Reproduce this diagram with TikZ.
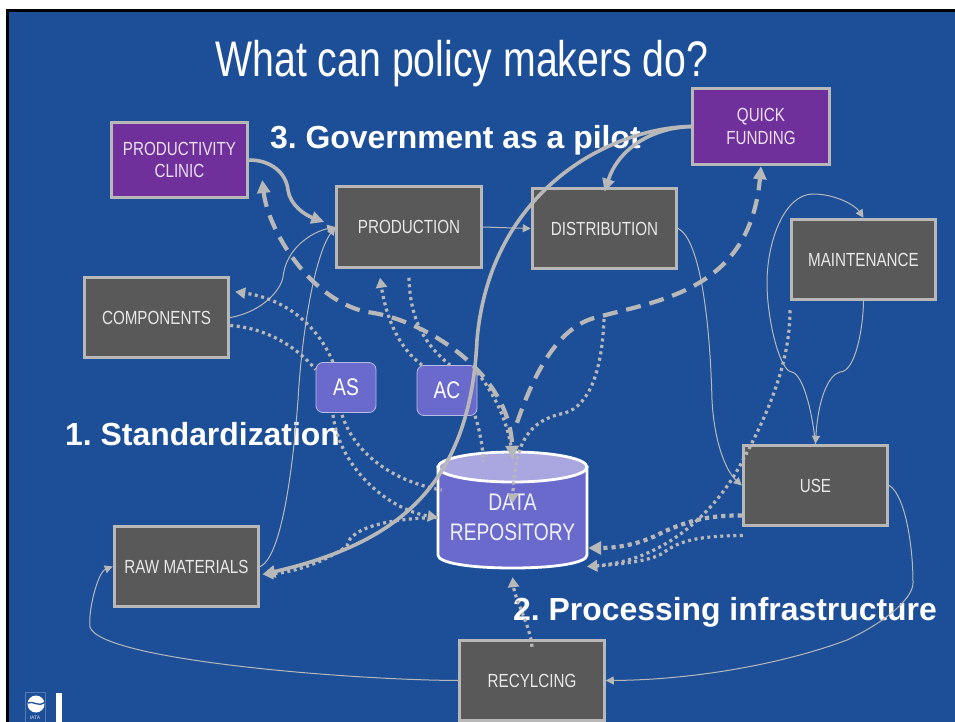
\documentclass[tikz,border=0pt]{standalone}
\usepackage{fontspec}
\setmainfont{Liberation Sans}
\newfontfamily\narrowfont[FakeStretch=0.8]{Liberation Sans}
\newfontfamily\titlefont[FakeStretch=0.785]{Liberation Sans}
\usetikzlibrary{arrows.meta}
\definecolor{slide}{HTML}{1D4F99}
\definecolor{boxgray}{HTML}{595959}
\definecolor{edge}{HTML}{B8B8B8}
\definecolor{purplebox}{HTML}{70309C}
\definecolor{violetbox}{HTML}{6A6ACC}
\definecolor{cyltop}{HTML}{A9A6E0}
\definecolor{labeltext}{HTML}{E8E8E8}
\tikzset{
  boxbase/.style={draw=edge,line width=3pt,inner sep=0pt,align=center,text=labeltext,
    font=\narrowfont\fontsize{19}{22.5}\selectfont},
  graybox/.style={boxbase,fill=boxgray,minimum width=144.5pt,minimum height=80.5pt},
  purple box/.style={boxbase,fill=purplebox,text=white!85!purplebox},
  softbox/.style={draw=white!55!violetbox,line width=0.8pt,fill=violetbox,rounded corners=7pt,
    minimum width=60pt,minimum height=50pt,inner sep=0pt,text=white,
    font=\narrowfont\fontsize{24}{28}\selectfont},
  headline/.style={anchor=base west,inner sep=0pt,text=white,font=\frenchspacing\bfseries\fontsize{31.9}{36}\selectfont},
  thinlink/.style={draw=edge,line width=1pt,line cap=round},
  thinarrow/.style={thinlink,-{Triangle[length=8pt,width=8pt]}},
  heavylink/.style={draw=edge,line width=3.6pt,-{Triangle[length=13pt,width=12pt]}},
  dashlink/.style={draw=edge,line width=4.2pt,dash pattern=on 15pt off 9pt},
  dashtip/.style={dashlink,-{Triangle[length=13pt,width=13pt]}},
  dotlink/.style={draw=edge,line width=3.2pt,dash pattern=on 3pt off 3.5pt},
  dotarrow/.style={dotlink,-{Triangle[length=10pt,width=11pt]}},
  bigdot/.style={draw=edge,line width=4.2pt,dash pattern=on 4.2pt off 4pt,-{Triangle[length=13pt,width=13pt]}},
}
\begin{document}
\begin{tikzpicture}[x=1pt,y=-1pt]
\useasboundingbox (0,0) rectangle (955,722);
\fill[white] (0,0) rectangle (955,722);
\fill[black] (6,9) rectangle (955,722);
\fill[slide] (9,12) rectangle (955,722);

% title and headings
\node[anchor=base,inner sep=0pt,text=white,font=\titlefont\fontsize{50}{56}\selectfont] (title) at (462,77) {What can policy makers do?};
\node[headline] (h3) at (270,149) {3. Government as a pilot};
\node[headline] (h1) at (65,445) {1. Standardization};
\node[headline] (h2) at (513,620) {2. Processing infrastructure};

% logo
\draw[white!25!slide,line width=0.6pt] (25,692) rectangle (45,722);
\fill[white] (36,704) circle (8.5pt);
\draw[slide,line width=1.3pt] (28,703) .. controls (33,700) and (38,708) .. (45,702);
\node[inner sep=0pt,text=white!80!slide,font=\fontsize{5}{6}\selectfont] (iata) at (35,718) {IATA};
\fill[white] (56,693) rectangle (62,722);

% boxes
\node[purple box,minimum width=136.5pt,minimum height=75.5pt] (clinic) at (179.5,160) {PRODUCTIVITY\\CLINIC};
\node[purple box,minimum width=137.5pt,minimum height=76.5pt] (quick) at (761,126.5) {QUICK\\FUNDING};
\node[graybox] (prod) at (409,227) {PRODUCTION};
\node[graybox] (dist) at (604.5,228.5) {DISTRIBUTION};
\node[graybox] (maint) at (863.5,259.5) {MAINTENANCE};
\node[graybox] (comp) at (156.5,317.5) {COMPONENTS};
\node[graybox] (raw) at (186.5,566.5) {RAW MATERIALS};
\node[graybox] (use) at (815.5,485.5) {USE};
\node[graybox] (recyc) at (532,680.5) {RECYLCING};
\node[softbox] (as) at (346,387.5) {AS};
\node[softbox] (ac) at (447,390.5) {AC};

% data repository
\filldraw[fill=violetbox,draw=white,line width=2.8pt] (438,467) -- (438,555)
  .. controls (438,563) and (470,568) .. (512.5,568)
  .. controls (555,568) and (587,563) .. (587,555) -- (587,467) -- cycle;
\filldraw[fill=cyltop,draw=white,line width=2.8pt] (512.5,467) ellipse [x radius=74.5pt,y radius=15pt];
\node[inner sep=0pt,minimum width=149pt,minimum height=101pt,align=center,text=white!90!violetbox,
  font=\narrowfont\fontsize{24}{29.5}\selectfont] (repo) at (512.5,517.5) {DATA\\REPOSITORY};
\coordinate (junction) at (604,319);

% thin links
\draw[thinarrow] (comp.east) .. controls (262,312) and (281,290) .. (283,277) .. controls (286,248) and (312,232) .. (prod.west);
\draw[thinarrow] (raw.east) .. controls (285,555) and (295,440) .. (298,400) .. controls (302,330) and (315,255) .. (prod.west);
\draw[thinarrow] (prod.east) -- (dist.west);
\draw[thinarrow] (dist.east) .. controls (700,240) and (710,320) .. (712,400) .. controls (714,440) and (725,470) .. (use.west);
\draw[thinarrow] (use.east) .. controls (905,495) and (913,545) .. (913,583) .. controls (913,600) and (880,625) .. (847,640) .. controls (780,665) and (690,680) .. (recyc.east);
\draw[thinarrow] (recyc.west) .. controls (350,680) and (100,660) .. (90,627) .. controls (88,610) and (98,572) .. (raw.west);
\draw[thinarrow] (maint.south) .. controls (863,330) and (855,372) .. (840,372) .. controls (828,375) and (818,400) .. (use.north);
\draw[thinarrow] (use.north) .. controls (812,410) and (803,375) .. (792,372) .. controls (780,372) and (767,320) .. (767,283) .. controls (767,240) and (785,194) .. (813,194) .. controls (835,194) and (855,205) .. (maint.north);

% heavy links
\draw[heavylink] (clinic.east) .. controls (270,160) and (286,172) .. (288,190) .. controls (290,205) and (305,215) .. ([xshift=-11pt,yshift=5pt]prod.west);
\draw[heavylink] (quick.west) .. controls (650,128) and (618,150) .. ([yshift=-5pt]dist.north);
\draw[heavylink] (quick.west) .. controls (610,128) and (490,190) .. (477,340) .. controls (470,490) and (393,544) .. ([xshift=2pt,yshift=-8pt]raw.east);

% dashed links
\draw[dashlink,{Triangle[length=13pt,width=13pt]}-{Triangle[length=13pt,width=13pt]}] ([xshift=13pt,yshift=-20pt]clinic.east) .. controls (268,230) and (310,300) .. (367,312) .. controls (420,318) and (510,370) .. ([yshift=8pt]repo.north);
\draw[dashtip] ([xshift=4.5pt,yshift=44pt]repo.north) .. controls (535,370) and (560,325) .. (598,317) .. controls (660,300) and (750,290) .. (quick.south);

% dotted links
\draw[dotarrow] ([xshift=-13pt]as.north) .. controls (315,320) and (280,298) .. ([xshift=5pt,yshift=-16pt]comp.north east);
\draw[dotlink] ([yshift=-8pt]comp.east) .. controls (265,328) and (295,345) .. ([yshift=18pt]as.west);
\draw[dotarrow] ([xshift=-25pt]ac.north) .. controls (395,345) and (385,310) .. ([xshift=-29pt,yshift=-9pt]prod.south);
\draw[dotlink] ([yshift=-9pt]prod.south) .. controls (410,320) and (425,345) .. ([xshift=3pt]ac.north);
\draw[dotlink] ([yshift=18pt]ac.east) .. controls (495,395) and (510,425) .. ([yshift=8pt]repo.north);
\draw[dotlink] ([xshift=28pt]ac.south) .. controls (480,430) and (483,450) .. ([xshift=-29pt,yshift=5pt]repo.north);
\draw[dotlink] ([xshift=-4pt,yshift=-2pt]as.south) .. controls (355,455) and (395,482) .. ([xshift=4pt,yshift=27.5pt]repo.west);
\draw[dotarrow] ([xshift=-13pt,yshift=-2pt]as.south) .. controls (340,470) and (390,510) .. (repo.west);
\draw[dotarrow] (repo.west) .. controls (400,518) and (350,525) .. (347,546) .. controls (325,562) and (295,572) .. ([xshift=3pt,yshift=-8pt]raw.east);
\draw[dotarrow] ([xshift=-73.5pt,yshift=-9pt]maint.south) .. controls (790,360) and (770,410) .. (743,460) .. controls (720,505) and (670,560) .. ([yshift=-49pt]repo.east);
\draw[bigdot] ([yshift=-30pt]use.west) .. controls (700,515) and (680,525) .. (663,532) .. controls (640,545) and (615,548) .. ([xshift=1pt,yshift=-30.5pt]repo.east);
\draw[dotarrow] ([xshift=1pt,yshift=-50pt]use.west) .. controls (700,536) and (680,540) .. (663,553) .. controls (650,562) and (610,565) .. ([yshift=-49pt]repo.east);
\draw[dotarrow] ([yshift=-8pt]recyc.north) .. controls (530,625) and (515,600) .. ([yshift=-9pt]repo.south);
\draw[dotarrow] (junction) .. controls (602,370) and (590,405) .. (565,413) .. controls (530,420) and (515,440) .. ([yshift=14pt]repo.center);
\end{tikzpicture}
\end{document}
